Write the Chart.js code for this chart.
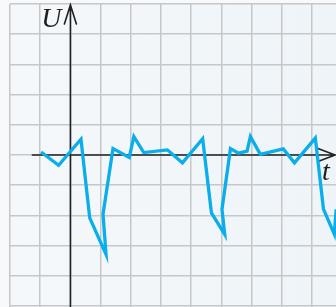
<!DOCTYPE html>
<html>
<head>
<meta charset="utf-8">
<script src="https://cdn.jsdelivr.net/npm/chart.js@4.4.1/dist/chart.umd.min.js"></script>
<style>
  html, body { margin: 0; padding: 0; background: #f7f9fb; }
  #wrap { width: 336px; height: 307px; }
</style>
</head>
<body>
<div id="wrap"><canvas id="chart" width="336" height="307"></canvas></div>
<script>
// signal U(t) (1 unit = 1 grid cell)
const tValues = [-0.97, -0.39, 0.35, 0.64, 1.18, 1.08, 1.41, 1.95, 2.10, 2.43, 3.21, 3.71,
                 4.38, 4.67, 5.11, 5.02, 5.30, 5.57, 5.85, 5.96, 6.29, 7.05, 7.42,
                 8.11, 8.38, 8.74, 8.80];
const uValues = [0.10, -0.34, 0.52, -2.08, -3.29, -1.96, 0.21, -0.08, 0.61, 0.08, 0.17, -0.26,
                 0.54, -1.92, -2.63, -1.80, 0.21, 0.06, 0.13, 0.61, 0.02, 0.20, -0.26,
                 0.56, -1.79, -2.62, -1.80];
const xGrid = [-2, -1, 0, 1, 2, 3, 4, 5, 6, 7, 8];
const yGrid = [-5, -4, -3, -2, -1, 0, 1, 2, 3, 4, 5];
const axisLabels = ['U', 't'];

const gridColor = '#c5c7c9';

// background of the squared paper
const paperPlugin = {
    id: 'paper',
    beforeDraw(chart) {
        const { ctx, chartArea: a } = chart;
        const g = ctx.createLinearGradient(a.left, 0, a.right, 0);
        g.addColorStop(0, '#f5f8fb');
        g.addColorStop(1, '#eef4f8');
        ctx.save();
        ctx.fillStyle = g;
        ctx.fillRect(a.left, a.top, a.right - a.left, a.bottom - a.top);
        ctx.restore();
    }
};

// arrows for U and t axes
const axesPlugin = {
    id: 'arrowAxes',
    beforeDatasetsDraw(chart) {
        const { ctx, scales: { x, y } } = chart;
        const x0 = x.getPixelForValue(0);
        const y0 = y.getPixelForValue(0);
        ctx.save();
        ctx.strokeStyle = '#222';
        ctx.lineWidth = 1.6;
        ctx.lineCap = 'round';

        // t axis
        const xs = x.getPixelForValue(-1.26);
        const xe = chart.width - 1;
        ctx.beginPath();
        ctx.moveTo(xs, y0);
        ctx.lineTo(xe, y0);
        ctx.moveTo(xe - 17, y0 - 6.5);
        ctx.lineTo(xe, y0);
        ctx.lineTo(xe - 17, y0 + 6.5);
        ctx.stroke();

        // U axis
        const ye = 5;
        ctx.beginPath();
        ctx.moveTo(x0, chart.height);
        ctx.lineTo(x0, ye);
        ctx.moveTo(x0 - 6, ye + 19);
        ctx.lineTo(x0, ye);
        ctx.lineTo(x0 + 6, ye + 19);
        ctx.stroke();

        ctx.fillStyle = '#1e1e1e';
        ctx.font = 'italic 28px "Liberation Serif", serif';
        ctx.textAlign = 'right';
        ctx.textBaseline = 'alphabetic';
        ctx.fillText(axisLabels[0], x0 - 9, 27);
        ctx.textAlign = 'left';
        ctx.fillText(axisLabels[1], 322, 180);
        ctx.restore();
    }
};

const ctx = document.getElementById('chart').getContext('2d');
new Chart(ctx, {
    type: 'line',
    data: {
        datasets: [{
            data: tValues.map((t, i) => ({ x: t, y: uValues[i] })),
            borderColor: '#0aaeea',
            borderWidth: 3.3,
            pointRadius: 0,
            tension: 0,
            fill: false
        }]
    },
    options: {
        responsive: false,
        devicePixelRatio: 1,
        animation: false,
        layout: { padding: { left: 10, top: 4, right: 0, bottom: 0 } },
        plugins: { legend: { display: false }, tooltip: { enabled: false } },
        scales: {
            x: {
                type: 'linear',
                min: -2,
                max: 8.795,
                afterBuildTicks: s => { s.ticks = xGrid.map(v => ({ value: v })); },
                ticks: { display: false },
                border: { display: false },
                grid: { color: gridColor, lineWidth: 1.5, drawTicks: false }
            },
            y: {
                type: 'linear',
                min: -5.033,
                max: 5,
                afterBuildTicks: s => { s.ticks = yGrid.map(v => ({ value: v })); },
                ticks: { display: false },
                border: { display: false },
                grid: { color: gridColor, lineWidth: 1.5, drawTicks: false }
            }
        }
    },
    plugins: [paperPlugin, axesPlugin]
});
</script>
</body>
</html>
